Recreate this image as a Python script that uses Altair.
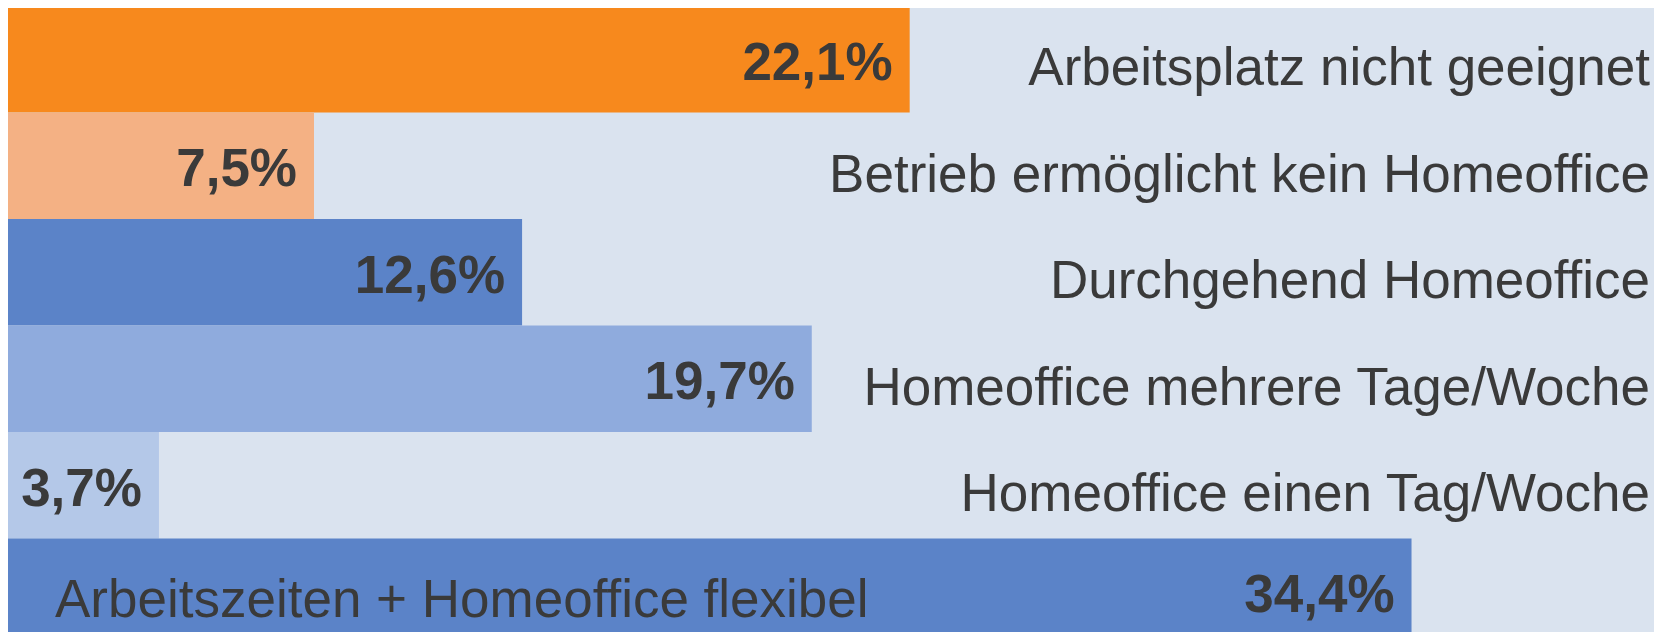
import altair as alt
import pandas as pd

categories = [
    "Arbeitsplatz nicht geeignet",
    "Betrieb ermöglicht kein Homeoffice",
    "Durchgehend Homeoffice",
    "Homeoffice mehrere Tage/Woche",
    "Homeoffice einen Tag/Woche",
    "Arbeitszeiten + Homeoffice flexibel",
]
values = [22.1, 7.5, 12.6, 19.7, 3.7, 34.4]
value_labels = ["22,1%", "7,5%", "12,6%", "19,7%", "3,7%", "34,4%"]
colors = ["#F7891D", "#F4B184", "#5B83C8", "#8FABDD", "#B4C8E8", "#5B83C8"]
label_inside = [False, False, False, False, False, True]

df = pd.DataFrame({
    "cat": categories,
    "value": values,
    "vlabel": value_labels,
    "color": colors,
    "inside": label_inside,
})

W, H = 1646, 624
PX_PER_PCT = 40.8
FONT = "Liberation Sans"
TXT = "#3A3A3A"

y_enc = alt.Y("cat:N", sort=categories, axis=None,
              scale=alt.Scale(range=[-2, 637], paddingInner=0, paddingOuter=0))
x_scale = alt.Scale(domain=[0, W / PX_PER_PCT], nice=False, zero=True)

base = alt.Chart(df)

bars = base.mark_bar(cornerRadius=0, strokeWidth=0).encode(
    y=y_enc,
    x=alt.X("value:Q", scale=x_scale, axis=None),
    color=alt.Color("color:N", scale=None),
)

vals = base.mark_text(align="right", baseline="alphabetic", dx=-17, dy=20.5,
                      font=FONT, fontSize=53, fontWeight="bold", color=TXT).encode(
    y=y_enc,
    x=alt.X("value:Q", scale=x_scale, axis=None),
    text="vlabel:N",
)

cat_right = base.transform_filter("!datum.inside").mark_text(
    align="right", baseline="alphabetic", dy=26,
    font=FONT, fontSize=53, color=TXT).encode(
    y=y_enc,
    x=alt.value(1642),
    text="cat:N",
)

cat_inside = base.transform_filter("datum.inside").mark_text(
    align="left", baseline="alphabetic", dy=25.5,
    font=FONT, fontSize=53, color=TXT).encode(
    y=y_enc,
    x=alt.value(47),
    text="cat:N",
)

chart = alt.layer(bars, vals, cat_right, cat_inside).properties(
    width=W, height=H, padding=0, background="#DAE3EF",
    autosize=alt.AutoSizeParams(type="none"),
).configure_view(stroke=None)

chart.save("out.html", embed_options={"renderer": "svg", "actions": False})
